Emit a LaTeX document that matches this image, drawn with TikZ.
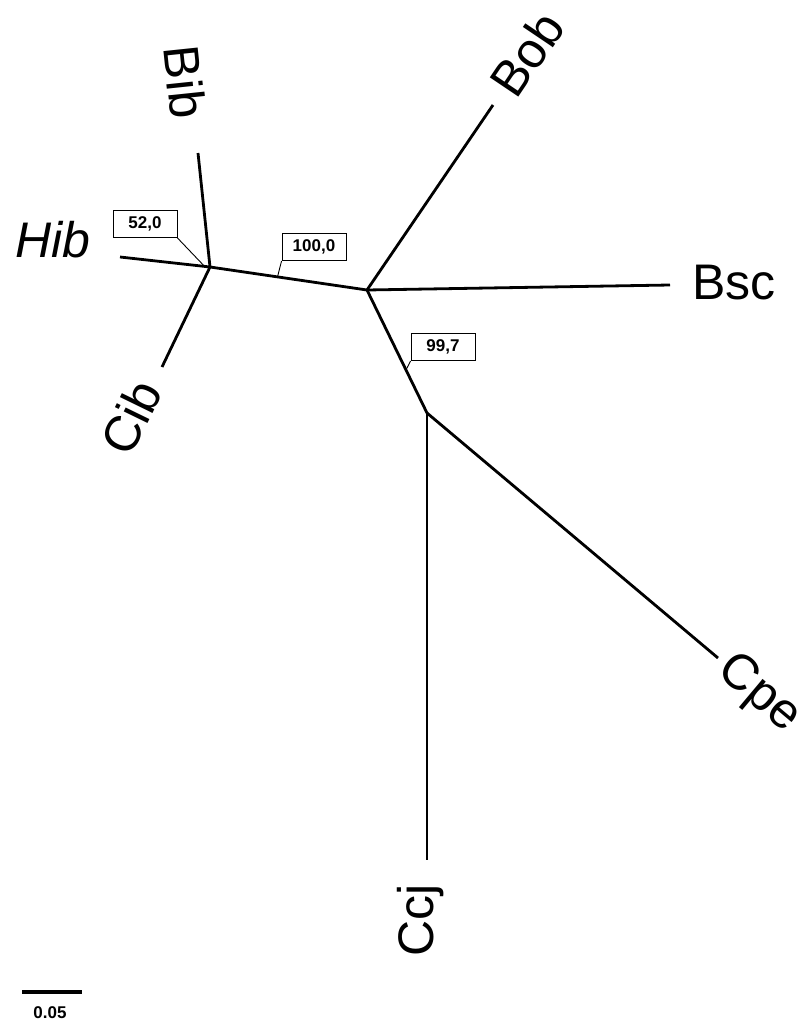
\documentclass[tikz,border=0pt]{standalone}
\usepackage{fontspec}
\setmainfont{Liberation Sans}
\usetikzlibrary{calc}
\begin{document}
\begin{tikzpicture}[x=1pt,y=-1pt,
  branch/.style={line width=2.8pt},
  taxon/.style={font=\fontsize{50}{50}\selectfont, inner sep=0pt},
  boot/.style={draw, line width=0.9pt, font=\fontsize{17}{17}\selectfont\bfseries, minimum width=64pt, minimum height=27pt, inner sep=0pt},
  leader/.style={line width=0.9pt}]
\useasboundingbox (0,0) rectangle (810,1030);
% internal nodes and tips
\coordinate (A) at (210,267);
\coordinate (B) at (367,290);
\coordinate (C) at (427,413);
\coordinate (tBib) at (198,153);
\coordinate (tHib) at (120,257);
\coordinate (tCib) at (162,367);
\coordinate (tBob) at (493,105);
\coordinate (tBsc) at (670,285);
\coordinate (tCcj) at (427,860);
\coordinate (tCpe) at (718,658);
% branches
\draw[branch] (A) -- (tBib);
\draw[branch] (A) -- (tHib);
\draw[branch] (A) -- (tCib);
\draw[branch] (A) -- (B);
\draw[branch] (B) -- (tBob);
\draw[branch] (B) -- (tBsc);
\draw[branch] (B) -- (C);
\draw[branch] (C) -- (tCcj);
\draw[branch] (C) -- (tCpe);
% taxon labels
\node[taxon, rotate=-84] (lBib) at (185,82) {Bib};
\node[taxon, font=\fontsize{50}{50}\selectfont\itshape] (lHib) at (53,240) {Hib};
\node[taxon, rotate=64] (lCib) at (131,417) {Cib};
\node[taxon, rotate=56] (lBob) at (527,54) {Bob};
\node[taxon] (lBsc) at (734,283) {Bsc};
\node[taxon, rotate=90] (lCcj) at (421,920) {Ccj};
\node[taxon, rotate=-40] (lCpe) at (759,694) {Cpe};
% bootstrap boxes
\coordinate (p52) at ($(A)!0.06!(tHib)$);
\coordinate (p100) at ($(A)!0.43!(B)$);
\coordinate (p997) at ($(B)!0.65!(C)$);
\node[boot] (b52) at (145,224) {52,0};
\node[boot] (b100) at (314,247) {100,0};
\node[boot] (b997) at (443,347) {99,7};
\draw[leader] (b52.south east) -- (p52);
\draw[leader] (b100.south west) -- (p100);
\draw[leader] (b997.south west) -- (p997);
% scale bar
\coordinate (s1) at (22,992);
\coordinate (s2) at (82,992);
\draw[line width=4pt] (s1) -- (s2);
\node[font=\fontsize{17}{17}\selectfont\bfseries, inner sep=0pt] (sl) at (50,1013) {0.05};
\end{tikzpicture}
\end{document}
